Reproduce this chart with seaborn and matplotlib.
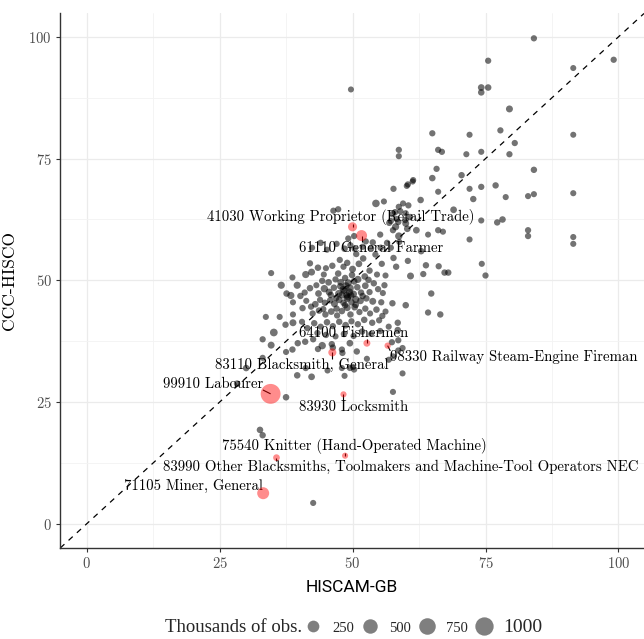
import numpy as np
import pandas as pd
import seaborn as sns
import matplotlib
matplotlib.use("Agg")
import matplotlib.pyplot as plt
from matplotlib.lines import Line2D

# ---------------- data ----------------
hiscam = [
    84.1, 75.5, 99.1, 91.5, 49.7, 74.2, 75.5, 74.2, 79.5, 77.8, 65.0, 72.0, 91.5, 80.5,
    58.7, 58.7, 66.1, 66.8, 71.4, 74.2, 79.5, 84.1, 65.8, 70.5, 65.0, 61.4, 60.4, 57.7,
    66.1, 72.0, 74.2, 76.9, 84.1, 83.0, 91.5, 72.7, 78.8, 62.8, 54.4, 55.9, 58.7, 60.5,
    69.0, 46.4, 47.3, 74.2, 78.2, 77.2, 58.1, 60.3, 62.0, 60.0, 66.1, 67.0, 64.2, 83.0,
    83.0, 91.5, 91.5, 72.0, 55.2, 58.7, 49.2, 50.3, 56.5, 55.3, 57.2, 62.9, 53.5, 51.9,
    42.4, 50.7, 57.7, 58.2, 60.4, 63.8, 66.2, 74.3, 67.3, 68.0, 75.0, 63.3, 60.9, 56.2,
    47.6, 47.3, 44.6, 41.2, 42.3, 38.7, 34.7, 36.6, 39.6, 37.6, 38.4, 38.8, 64.8, 57.5,
    60.0, 64.2, 66.5, 33.7, 36.3, 38.8, 37.4, 38.8, 35.2, 33.1, 34.7, 37.5, 38.7, 39.7,
    41.1, 42.6, 44.3, 43.5, 46.1, 46.3, 48.0, 48.1, 49.5, 50.8, 57.4, 58.6, 59.4, 58.6,
    57.6, 56.8, 52.7, 50.1, 50.3, 48.0, 49.5, 45.3, 41.2, 39.6, 42.3, 48.5, 59.4, 33.1,
    30.0, 28.3, 37.5, 57.6, 32.6, 33.1, 42.6, 58.5, 55.6, 58.5, 60.2, 61.3, 57.5, 59.0,
    60.8, 58.3, 59.9, 57.6, 58.6, 60.0, 56.9, 58.0, 59.5, 57.2, 58.8,
    44.0, 45.2, 47.0, 48.5, 49.6, 50.4, 52.5, 53.8, 54.3, 52.0, 51.2, 49.0, 50.0, 48.3,
    46.2, 45.0, 43.5, 42.0, 53.2, 54.6, 55.5, 52.3, 51.0, 49.9, 48.6, 47.8, 46.8, 45.5,
    44.3, 43.2, 42.0, 41.0, 40.2, 43.6, 44.7, 45.6, 46.5, 47.4, 48.2, 48.9, 49.5, 50.2,
    50.9, 51.6, 52.4, 53.2, 54.0, 54.8, 55.7, 56.0, 53.8, 52.6, 51.5, 50.6, 49.8, 49.0,
    48.3, 47.5, 46.6, 45.8, 44.8, 43.9, 43.0, 42.2, 41.3, 40.6, 42.5, 43.7, 44.9, 46.0,
    47.1, 48.0, 49.0, 49.6, 50.4, 51.3, 52.4, 53.3, 54.5, 55.4, 56.2, 55.0, 53.7, 52.2,
    51.0, 49.8, 48.7, 47.5, 46.3, 45.2, 44.0, 42.8, 41.5, 40.5, 43.4, 45.0, 46.8, 48.4,
    50.2, 51.8, 53.5, 55.2, 56.8, 49.2, 48.8, 50.3, 47.0, 48.6, 49.4, 48.0, 49.1, 48.4,
    49.7, 47.7, 50.6, 45.9, 46.9, 44.5, 51.9, 53.0,
]
ccc = [
    99.7, 95.1, 95.3, 93.6, 89.2, 89.6, 89.6, 88.6, 85.2, 80.8, 80.2, 79.9, 79.9, 78.2,
    76.8, 75.5, 76.8, 76.4, 75.9, 76.4, 75.9, 72.7, 72.9, 71.6, 71.0, 70.6, 69.7, 68.8,
    68.2, 68.8, 69.2, 69.5, 67.7, 67.3, 67.9, 66.7, 67.1, 66.5, 65.8, 66.2, 65.1, 65.4,
    64.5, 64.3, 64.6, 62.3, 62.5, 61.9, 61.0, 60.6, 60.3, 61.7, 60.3, 60.0, 59.4, 60.3,
    59.1, 58.9, 57.5, 58.4, 59.4, 59.1, 58.6, 59.1, 57.7, 56.7, 56.7, 56.0, 56.6, 56.9,
    56.7, 55.4, 54.6, 52.8, 54.0, 53.1, 52.9, 53.4, 51.6, 51.6, 51.0, 51.3, 50.9, 51.0,
    54.2, 51.4, 51.2, 51.2, 51.7, 50.6, 51.5, 49.0, 49.0, 47.3, 46.9, 45.5, 47.3, 45.3,
    44.9, 43.4, 43.0, 42.5, 42.5, 43.0, 40.9, 41.3, 39.3, 37.9, 36.7, 35.3, 35.8, 37.1,
    37.4, 37.9, 36.6, 35.9, 36.9, 36.2, 35.8, 35.1, 37.1, 35.4, 37.3, 37.7, 36.1, 35.6,
    34.4, 33.7, 33.9, 32.2, 31.7, 32.0, 32.0, 31.5, 32.0, 30.5, 30.2, 30.4, 30.9, 34.1,
    32.0, 28.8, 26.0, 27.1, 19.3, 18.2, 4.3, 41.3, 42.7, 39.8, 69.4, 70.3, 63.6, 64.2,
    63.0, 62.6, 62.4, 60.3, 62.0, 63.8, 61.8, 64.0, 65.8, 62.2, 57.9,
    57.7, 56.3, 57.5, 56.5, 57.2, 56.5, 58.0, 57.8, 55.3, 54.5, 53.4, 53.6, 52.3, 52.8,
    53.0, 52.5, 52.6, 53.5, 52.0, 51.2, 53.4, 50.8, 50.2, 51.1, 50.5, 49.6, 50.2, 49.6,
    49.9, 49.0, 48.4, 47.5, 46.8, 47.3, 48.3, 47.6, 48.5, 47.3, 48.2, 47.0, 48.4, 47.2,
    48.6, 47.5, 48.9, 47.6, 49.4, 48.2, 47.4, 49.0, 45.7, 46.3, 45.8, 46.1, 45.5, 46.3,
    45.4, 46.0, 45.2, 45.9, 45.4, 46.0, 45.1, 44.6, 45.8, 44.3, 43.2, 43.8, 43.0, 43.6,
    42.8, 43.7, 44.4, 43.0, 44.5, 43.5, 44.2, 43.2, 44.0, 45.5, 43.6, 41.8, 41.3, 41.9,
    41.0, 41.6, 40.8, 41.5, 40.6, 41.4, 40.5, 41.2, 40.2, 41.5, 39.2, 38.8, 38.5, 39.0,
    38.6, 39.5, 39.0, 39.6, 40.5, 49.5, 48.9, 49.8, 44.2, 44.9, 47.6, 47.0, 46.6, 47.9,
    46.9, 48.8, 45.0, 47.0, 46.4, 44.1, 46.8, 50.1,
]
obs = [
    8, 8, 8, 5, 5, 15, 12, 12, 20, 8, 8, 6, 5, 8,
    8, 6, 8, 8, 6, 6, 8, 10, 8, 10, 12, 6, 8, 8,
    6, 6, 8, 10, 6, 6, 6, 10, 6, 12, 35, 6, 8, 8,
    15, 8, 8, 6, 12, 10, 25, 15, 15, 20, 8, 6, 5, 8,
    8, 6, 6, 6, 8, 30, 8, 8, 10, 10, 8, 12, 8, 8,
    6, 8, 10, 10, 8, 10, 8, 6, 10, 10, 8, 8, 20, 6,
    8, 12, 6, 25, 20, 6, 6, 25, 25, 12, 25, 6, 10, 10,
    12, 8, 10, 6, 6, 6, 10, 20, 40, 8, 20, 6, 10, 10,
    10, 8, 30, 8, 10, 10, 8, 8, 15, 10, 8, 8, 8, 8,
    6, 6, 6, 6, 8, 6, 6, 6, 8, 12, 15, 6, 6, 6,
    12, 12, 12, 6, 12, 10, 6, 10, 8, 12, 6, 6, 10, 8,
    12, 8, 10, 8, 10, 6, 8, 10, 6, 8, 6,
    10, 6, 8, 12, 8, 10, 6, 10, 8, 12, 15, 10, 20, 8,
    10, 6, 12, 8, 10, 6, 8, 15, 25, 12, 10, 20, 8, 15,
    10, 6, 12, 8, 10, 15, 30, 20, 12, 25, 15, 20, 40, 18,
    12, 10, 15, 8, 10, 8, 6, 8, 20, 12, 15, 25, 12, 30,
    10, 15, 20, 12, 10, 8, 15, 8, 6, 10, 8, 12, 10, 15,
    8, 12, 20, 10, 15, 8, 10, 6, 12, 8, 6, 8, 10, 12,
    10, 8, 15, 10, 8, 12, 6, 10, 8, 6, 8, 10, 6, 12,
    8, 10, 6, 8, 6, 25, 20, 15, 10, 12, 30, 20, 25, 15,
    20, 12, 15, 10, 12, 8, 10, 12,
]

hl_label = [
    "41030 Working Proprietor (Retail Trade)",
    "61110 General Farmer",
    "64100 Fishermen",
    "98330 Railway Steam-Engine Fireman",
    "83110 Blacksmith, General",
    "99910 Labourer",
    "83930 Locksmith",
    "75540 Knitter (Hand-Operated Machine)",
    "83990 Other Blacksmiths, Toolmakers and Machine-Tool Operators NEC",
    "71105 Miner, General",
]
hl_hiscam = [50.0, 51.7, 52.7, 56.6, 46.2, 34.6, 48.3, 48.6, 35.7, 33.2]
hl_ccc = [61.0, 59.2, 37.1, 36.6, 35.2, 26.7, 26.6, 14.0, 13.6, 6.3]
hl_obs = [90, 200, 20, 8, 50, 1250, 6, 6, 15, 270]

legend_values = [250, 500, 750, 1000]

# label placement (repelled text positions, left edge / vertical centre, data units)
lab_pos_x = [22.6, 40.0, 40.0, 57.1, 24.2, 14.3, 40.0, 25.4, 14.3, 7.1]
lab_pos_y = [63.0, 56.7, 39.2, 34.3, 32.6, 28.7, 24.0, 16.0, 11.7, 7.8]

df = pd.DataFrame({"hiscam": hiscam, "ccc": ccc, "obs": obs})
hl = pd.DataFrame({"label": hl_label, "hiscam": hl_hiscam, "ccc": hl_ccc, "obs": hl_obs})

DPI = 100
PX = 72.0 / DPI


def diam_px(v):
    return 5.1 + 0.418 * np.sqrt(np.asarray(v, dtype=float))


def area_pt2(v):
    return (diam_px(v) * PX) ** 2


# ---------------- style ----------------
sns.set_theme(style="white")
plt.rcParams["font.family"] = ["cmr10", "DejaVu Serif"]
plt.rcParams["axes.formatter.use_mathtext"] = True
plt.rcParams["mathtext.fontset"] = "cm"

fig = plt.figure(figsize=(6.44, 6.39), dpi=DPI)
ax = fig.add_axes([60 / 644, 1 - 548 / 639, 584 / 644, 535 / 639])

sns.scatterplot(data=df, x="hiscam", y="ccc", s=area_pt2(df["obs"]), color="black",
                alpha=0.55, edgecolor="none", linewidth=0, legend=False, ax=ax, zorder=3)
sns.scatterplot(data=hl, x="hiscam", y="ccc", s=area_pt2(hl["obs"]), color="#ff0000",
                alpha=0.45, edgecolor="none", linewidth=0, legend=False, ax=ax, zorder=4)

ax.axline((0, 0), slope=1, color="black", lw=0.9, ls=(0, (4.5, 4.5)), zorder=2)

ax.set_xlim(-5.0, 104.8)
ax.set_ylim(-4.95, 104.9)
ticks = [0, 25, 50, 75, 100]
ax.set_xticks(ticks)
ax.set_yticks(ticks)
ax.set_xticks([12.5, 37.5, 62.5, 87.5], minor=True)
ax.set_yticks([12.5, 37.5, 62.5, 87.5], minor=True)
ax.grid(True, which="major", color="#ebebeb", lw=0.9, zorder=0)
ax.grid(True, which="minor", color="#f3f3f3", lw=0.6, zorder=0)
ax.set_axisbelow(True)
for side in ["top", "right"]:
    ax.spines[side].set_visible(False)
for side in ["left", "bottom"]:
    ax.spines[side].set_color("#333333")
    ax.spines[side].set_linewidth(1.0)
ax.tick_params(which="major", length=3, width=0.8, color="#333333",
               labelsize=10.5, labelcolor="#4d4d4d", pad=3, left=True, bottom=True)
ax.tick_params(which="minor", length=0)

ax.set_xlabel("HISCAM-GB", family=["Roboto", "DejaVu Sans"],
              fontsize=12.5, color="black", labelpad=6)
ax.set_ylabel("CCC-HISCO", family=["cmr10"], fontsize=12.5, color="black", labelpad=8)

texts = []
for i, row in hl.iterrows():
    t = ax.text(lab_pos_x[i], lab_pos_y[i], row["label"], fontsize=10.65,
                ha="left", va="center", color="black", zorder=2.5)
    texts.append(t)

# segments from label box to point (ggrepel style)
fig.canvas.draw()
renderer = fig.canvas.get_renderer()
inv = ax.transData.inverted()
for t, (_, row) in zip(texts, hl.iterrows()):
    bb = t.get_window_extent(renderer)
    px, py = ax.transData.transform((row["hiscam"], row["ccc"]))
    nx = min(max(px, bb.x0), bb.x1)
    if py < bb.y0:
        ny = bb.y0 + 1
    elif py > bb.y1:
        ny = bb.y1 - 1
    else:
        ny = py
    d = np.hypot(px - nx, py - ny)
    if d > 2:
        (x0, y0) = inv.transform((nx, ny))
        (x1, y1) = inv.transform((px, py))
        ax.plot([x0, x1], [y0, y1], color="black", lw=0.8, zorder=2.6, solid_capstyle="butt")

# legend
handles = [Line2D([], [], ls="none", marker="o", markersize=diam_px(v) * PX,
                  markerfacecolor=(0, 0, 0, 0.5), markeredgewidth=0) for v in legend_values]
leg = fig.legend(handles, [str(v) for v in legend_values], loc="center left",
                 bbox_to_anchor=(306 / 644, 1 - 627 / 639), ncol=4, frameon=False,
                 handlelength=1.0, handletextpad=0.8, columnspacing=0.6, borderpad=0,
                 borderaxespad=0, prop={"family": "Liberation Serif", "size": 10.5})
leg.get_texts()[3].set_fontsize(14)
fig.text(165 / 644, 1 - 628 / 639, "Thousands of obs.", family="Liberation Serif",
         fontsize=13.5, va="center", ha="left")

fig.savefig("out.png", dpi=DPI)
